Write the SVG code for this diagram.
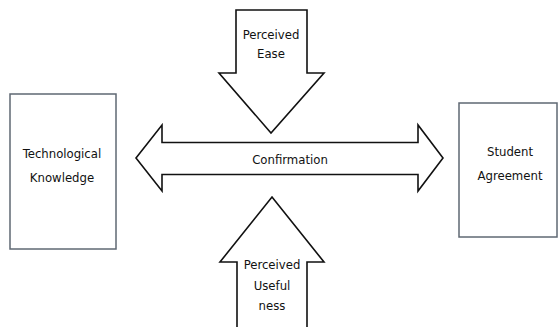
<svg xmlns="http://www.w3.org/2000/svg" width="558" height="327" viewBox="0 0 558 327">
<style>
.box{fill:#fff;stroke:#5f6873;stroke-width:1.5}
.arr{fill:#fff;stroke:#111;stroke-width:1.6;stroke-linejoin:miter}
text{font-family:"DejaVu Sans Condensed","DejaVu Sans",sans-serif;font-size:13px;fill:#111;text-anchor:middle;dominant-baseline:central}
</style>
<rect width="558" height="327" fill="#fff"/>
<g id="connectors">
<g id="confirmation">
<path class="arr" d="M136,158 L162,125 L162,142.5 L418,142.5 L418,125 L443,158 L418,191 L418,174.5 L162,174.5 L162,191 Z"/>
<text x="290" y="159">Confirmation</text>
</g>
<g id="perceived-ease">
<path class="arr" d="M236,10 L307,10 L307,73 L324,73 L271,133 L219,73 L236,73 Z"/>
<text x="271" y="34">Perceived</text>
<text x="271" y="53">Ease</text>
</g>
<g id="perceived-usefulness">
<path class="arr" d="M237,330 L237,262 L220,262 L272,197 L324,262 L307,262 L307,330"/>
<text x="272" y="264">Perceived</text>
<text x="272" y="285">Useful</text>
<text x="272" y="305">ness</text>
</g>
</g>
<g id="technological-knowledge">
<rect class="box" x="10" y="94" width="106" height="155"/>
<text x="62" y="153">Technological</text>
<text x="62" y="177">Knowledge</text>
</g>
<g id="student-agreement">
<rect class="box" x="459" y="103" width="98" height="134"/>
<text x="510" y="151">Student</text>
<text x="510" y="175">Agreement</text>
</g>
</svg>
